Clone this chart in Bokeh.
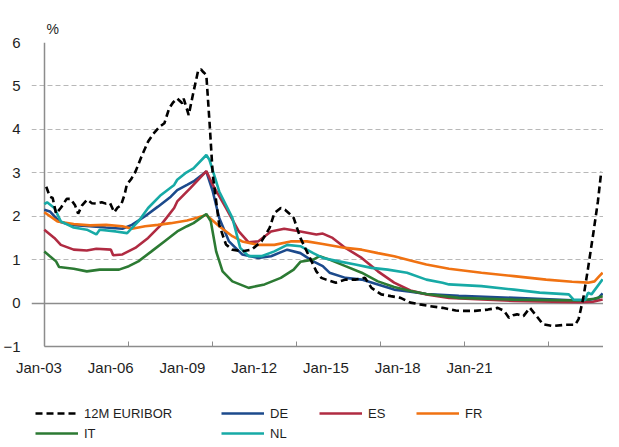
from bokeh.plotting import figure
from bokeh.models import Range1d, FixedTicker, LinearAxis, Grid, Legend, LegendItem
from bokeh.layouts import column
from bokeh.embed import file_html
from bokeh.resources import INLINE

# ---------------- data (decimal years, %) ----------------
euribor_t = [2003.07, 2003.2, 2003.3, 2003.42, 2003.6, 2003.8, 2003.94, 2004.1, 2004.21, 2004.35,
             2004.53, 2004.7, 2004.87, 2005.05, 2005.2, 2005.35, 2005.5, 2005.62, 2005.74, 2005.87,
             2005.95, 2006.1, 2006.26, 2006.47, 2006.71, 2006.9, 2007.12, 2007.29, 2007.46, 2007.6,
             2007.75, 2007.93, 2007.98, 2008.16, 2008.33, 2008.5, 2008.6, 2008.68, 2008.79, 2008.91,
             2009.02, 2009.25, 2009.49, 2009.72, 2010.07, 2010.41, 2010.76, 2011.05, 2011.22, 2011.45,
             2011.6, 2011.74, 2011.91, 2012.15, 2012.49, 2012.72, 2012.9, 2013.07, 2013.42, 2013.76,
             2014.11, 2014.46, 2014.69, 2015.04, 2015.38, 2015.73, 2016.08, 2016.42, 2016.77, 2017.23,
             2017.7, 2017.93, 2018.39, 2018.85, 2019.2, 2019.43, 2019.6, 2019.75, 2019.89, 2020.12,
             2020.35, 2020.59, 2020.82, 2021.16, 2021.63, 2021.97, 2022.09, 2022.26, 2022.43, 2022.61,
             2022.78, 2022.9]
euribor_v = [2.68, 2.45, 2.42, 2.06, 2.2, 2.4, 2.4, 2.25, 2.06, 2.25,
             2.38, 2.3, 2.29, 2.32, 2.29, 2.3, 2.09, 2.2, 2.25, 2.5,
             2.73, 2.85, 3.03, 3.37, 3.72, 3.9, 4.06, 4.14, 4.48, 4.62,
             4.71, 4.6, 4.71, 4.33, 4.86, 5.36, 5.38, 5.32, 5.25, 4.1,
             2.95, 1.8, 1.35, 1.23, 1.19, 1.23, 1.42, 1.73, 2.07, 2.19,
             2.15, 2.07, 1.96, 1.5, 1.04, 0.73, 0.58, 0.54, 0.47, 0.54,
             0.54, 0.58, 0.35, 0.2, 0.16, 0.12, 0.01, -0.03, -0.07, -0.11,
             -0.17, -0.18, -0.18, -0.15, -0.11, -0.18, -0.34, -0.28, -0.26, -0.3,
             -0.11, -0.3, -0.49, -0.53, -0.5, -0.5, -0.37, 0.12, 0.81, 1.58,
             2.34, 3.03]

de_t = [2003.0, 2003.2, 2003.53, 2003.94, 2004.63, 2005.2, 2005.79, 2006.13, 2006.6, 2007.06,
        2007.52, 2007.75, 2008.1, 2008.33, 2008.79, 2009.02, 2009.25, 2009.6, 2010.07, 2010.64,
        2011.1, 2011.68, 2012.15, 2012.61, 2012.95, 2013.19, 2013.76, 2014.34, 2014.92, 2015.5,
        2016.08, 2016.65, 2017.81, 2019.78, 2022.09, 2022.43, 2022.78, 2022.95]
de_v = [2.15, 2.11, 1.88, 1.8, 1.77, 1.74, 1.71, 1.8, 2.0, 2.22,
        2.45, 2.6, 2.72, 2.8, 3.03, 2.57, 1.96, 1.42, 1.12, 1.04,
        1.08, 1.23, 1.15, 0.96, 0.85, 0.7, 0.58, 0.54, 0.43, 0.31,
        0.26, 0.21, 0.17, 0.12, 0.06, 0.07, 0.11, 0.22]

es_t = [2003.0, 2003.36, 2003.59, 2004.05, 2004.52, 2004.86, 2005.38, 2005.46, 2005.79, 2006.25,
        2006.71, 2007.17, 2007.64, 2007.75, 2008.21, 2008.79, 2009.02, 2009.49, 2009.95, 2010.3,
        2010.64, 2011.1, 2011.57, 2012.15, 2012.72, 2012.95, 2013.3, 2013.76, 2014.34, 2014.92,
        2015.5, 2016.08, 2016.65, 2017.46, 2019.78, 2022.09, 2022.6, 2022.95]
es_v = [1.69, 1.5, 1.34, 1.23, 1.21, 1.25, 1.23, 1.1, 1.12, 1.27,
        1.5, 1.8, 2.19, 2.34, 2.64, 3.04, 2.72, 2.19, 1.65, 1.4,
        1.42, 1.65, 1.71, 1.65, 1.58, 1.6, 1.5, 1.27, 1.04, 0.73,
        0.47, 0.29, 0.2, 0.12, 0.05, 0.02, 0.03, 0.08]

fr_t = [2003.0, 2003.47, 2004.05, 2004.63, 2005.21, 2005.79, 2006.13, 2006.6, 2007.06, 2007.52,
        2008.1, 2008.33, 2008.79, 2009.25, 2009.72, 2010.07, 2010.64, 2011.22, 2011.8, 2012.38,
        2012.95, 2013.76, 2014.34, 2014.92, 2015.5, 2016.08, 2016.65, 2017.46, 2018.62, 2019.78,
        2020.93, 2021.86, 2022.43, 2022.66, 2022.83, 2022.95]
fr_v = [2.09, 1.88, 1.82, 1.79, 1.8, 1.77, 1.71, 1.77, 1.8, 1.84,
        1.9, 1.94, 2.03, 1.77, 1.54, 1.42, 1.34, 1.34, 1.42, 1.42,
        1.36, 1.27, 1.23, 1.15, 1.08, 0.98, 0.89, 0.79, 0.7, 0.62,
        0.54, 0.49, 0.47, 0.5, 0.62, 0.7]

it_t = [2003.0, 2003.2, 2003.42, 2003.53, 2004.05, 2004.52, 2004.98, 2005.67, 2006.02, 2006.36,
        2006.83, 2007.29, 2007.75, 2008.1, 2008.33, 2008.79, 2008.95, 2009.14, 2009.37, 2009.72,
        2010.3, 2010.87, 2011.45, 2011.91, 2012.15, 2012.61, 2012.84, 2013.19, 2013.76, 2014.34,
        2014.92, 2015.5, 2016.08, 2016.65, 2017.81, 2019.78, 2022.09, 2022.66, 2022.95]
it_v = [1.19, 1.08, 0.96, 0.83, 0.79, 0.73, 0.77, 0.77, 0.85, 0.96,
        1.19, 1.42, 1.65, 1.77, 1.84, 2.05, 1.88, 1.19, 0.73, 0.5,
        0.35, 0.43, 0.58, 0.77, 0.95, 1.0, 1.08, 1.0, 0.85, 0.7,
        0.5, 0.37, 0.28, 0.21, 0.12, 0.08, 0.06, 0.1, 0.16]

nl_t = [2003.0, 2003.1, 2003.36, 2003.59, 2004.05, 2004.52, 2004.86, 2004.98, 2005.55, 2005.96,
        2006.36, 2006.71, 2007.17, 2007.64, 2007.75, 2008.04, 2008.33, 2008.79, 2008.9, 2009.25,
        2009.72, 2010.0, 2010.3, 2010.76, 2011.22, 2011.68, 2012.15, 2012.61, 2012.95, 2013.53,
        2014.11, 2014.69, 2015.27, 2015.96, 2016.65, 2017.23, 2017.46, 2018.62, 2019.78, 2020.7,
        2021.74, 2021.91, 2022.32, 2022.43, 2022.55, 2022.95]
nl_v = [2.28, 2.32, 2.19, 1.88, 1.74, 1.69, 1.58, 1.69, 1.65, 1.61,
        1.88, 2.19, 2.49, 2.72, 2.84, 2.99, 3.1, 3.41, 3.3, 2.57,
        1.96, 1.27, 1.08, 1.08, 1.19, 1.34, 1.31, 1.15, 1.04, 0.96,
        0.89, 0.81, 0.77, 0.7, 0.54, 0.47, 0.43, 0.39, 0.31, 0.24,
        0.2, 0.08, 0.07, 0.24, 0.2, 0.55]

year_ticks = [2003, 2006, 2009, 2012, 2015, 2018, 2021]
tick_labels = ["Jan-03", "Jan-06", "Jan-09", "Jan-12", "Jan-15", "Jan-18", "Jan-21"]
y_ticks = [-1, 0, 1, 2, 3, 4, 5, 6]

# ---------------- layout / style ----------------
X_START, X_END = 2002.543, 2022.98
LABEL_FIRST, LABEL_STEP = 2002.81, 2.564   # label anchors as in the original (offset from ticks)
label_pos = [round(LABEL_FIRST + i * LABEL_STEP, 3) for i in range(len(tick_labels))]

FONT = "Liberation Sans"
TXT = "#1e1e1e"
AXIS_C = "#8c8c8c"
GRID_C = "#b8b8b8"

COLORS = {"eu": "black", "de": "#1c4a8c", "es": "#b02b42", "fr": "#f07212",
          "it": "#2c7a33", "nl": "#17aaa6"}
LW = 2.6
EU_DASH = "7 4"

p = figure(width=603, height=380, output_backend="svg", toolbar_location=None,
           x_range=Range1d(X_START, X_END), y_range=Range1d(-1, 6),
           min_border_left=22, min_border_right=0, min_border_top=42, min_border_bottom=34,
           title="%")
p.outline_line_color = None
p.background_fill_color = "white"
p.border_fill_color = "white"

p.title.text_font = FONT
p.title.text_font_size = "14px"
p.title.text_font_style = "normal"
p.title.text_color = TXT
p.title.offset = 15
p.title.standoff = 11

# y axis (labels only)
p.yaxis.ticker = FixedTicker(ticks=y_ticks)
p.yaxis.axis_line_color = None
p.yaxis.major_tick_line_color = None
p.yaxis.minor_tick_line_color = None
p.yaxis.major_label_standoff = 5
p.yaxis.major_label_text_font = FONT
p.yaxis.major_label_text_font_size = "15px"
p.yaxis.major_label_text_color = TXT

# x axis (line + inward ticks, no labels)
p.xaxis.ticker = FixedTicker(ticks=year_ticks)
p.xaxis.bounds = (year_ticks[0], X_END)
p.xaxis.axis_line_color = AXIS_C
p.xaxis.axis_line_width = 1.5
p.xaxis.major_tick_line_color = AXIS_C
p.xaxis.major_tick_line_width = 1
p.xaxis.major_tick_in = 5
p.xaxis.major_tick_out = 0
p.xaxis.minor_tick_line_color = None
p.xaxis.major_label_overrides = {t: "" for t in year_ticks}
p.xaxis.major_label_text_font_size = "1px"
p.xaxis.major_label_standoff = 0

# x labels axis
lab_axis = LinearAxis(ticker=FixedTicker(ticks=label_pos),
                      major_label_overrides={pos: lab for pos, lab in zip(label_pos, tick_labels)},
                      axis_line_color=None, major_tick_line_color=None, minor_tick_line_color=None,
                      major_label_standoff=6, major_label_text_font=FONT,
                      major_label_text_font_size="15px", major_label_text_color=TXT)
p.add_layout(lab_axis, "below")

# grids
p.xgrid.visible = False
p.ygrid.ticker = FixedTicker(ticks=[t for t in y_ticks if t > 0])
p.ygrid.bounds = (year_ticks[0], X_END)
p.ygrid.grid_line_color = GRID_C
p.ygrid.grid_line_dash = "5 3"
p.ygrid.grid_line_width = 1
zero_grid = Grid(dimension=1, ticker=FixedTicker(ticks=[0]), bounds=(year_ticks[0], X_END),
                 grid_line_color=AXIS_C, grid_line_width=1.5)
yline_grid = Grid(dimension=0, ticker=FixedTicker(ticks=[year_ticks[0]]),
                  grid_line_color=AXIS_C, grid_line_width=1.5)
p.add_layout(zero_grid)
p.add_layout(yline_grid)

# series
p.line(de_t, de_v, line_color=COLORS["de"], line_width=LW)
p.line(es_t, es_v, line_color=COLORS["es"], line_width=LW)
p.line(fr_t, fr_v, line_color=COLORS["fr"], line_width=LW)
p.line(it_t, it_v, line_color=COLORS["it"], line_width=LW)
p.line(nl_t, nl_v, line_color=COLORS["nl"], line_width=LW)
p.line(euribor_t, euribor_v, line_color=COLORS["eu"], line_width=LW, line_dash=EU_DASH)

# ---------------- legend strip ----------------
lg = figure(width=603, height=59, output_backend="svg", toolbar_location=None,
            x_axis_type=None, y_axis_type=None, min_border=0,
            x_range=Range1d(0, 1), y_range=Range1d(0, 1))
lg.outline_line_color = None
lg.xgrid.visible = False
lg.ygrid.visible = False
lg.background_fill_color = "white"
lg.border_fill_color = "white"

# legend keys: line styles only, their (off-range) sample points stay hidden
KEY_X, KEY_Y = [-2, -1], [-2, -2]

def key(name, dash="solid"):
    return lg.line(KEY_X, KEY_Y, line_color=COLORS[name], line_width=LW, line_dash=dash)

k_eu = key("eu", EU_DASH)
k_de = key("de")
k_es = key("es")
k_fr = key("fr")
k_it = key("it")
k_nl = key("nl")

def make_legend(items, loc):
    leg = Legend(items=items, location=loc, orientation="vertical",
                 glyph_width=43, glyph_height=20, label_height=20, spacing=0,
                 padding=0, margin=0, border_line_color=None, background_fill_alpha=0,
                 label_standoff=6, label_text_font=FONT, label_text_font_size="13px",
                 label_text_color=TXT)
    lg.add_layout(leg)

make_legend([LegendItem(label="12M EURIBOR", renderers=[k_eu]),
             LegendItem(label="IT", renderers=[k_it])], (4, -4))
make_legend([LegendItem(label="DE", renderers=[k_de]),
             LegendItem(label="NL", renderers=[k_nl])], (190, -4))
make_legend([LegendItem(label="ES", renderers=[k_es])], (288, 16))
make_legend([LegendItem(label="FR", renderers=[k_fr])], (385, 16))

open("out.html", "w").write(file_html(column(p, lg, spacing=0), INLINE))
